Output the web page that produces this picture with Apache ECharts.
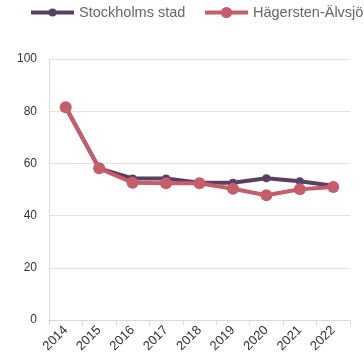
<!DOCTYPE html>
<html>
<head>
<meta charset="utf-8">
<script src="https://cdn.jsdelivr.net/npm/echarts@6/dist/echarts.min.js"></script>
<style>
  html, body { margin: 0; padding: 0; background: #fff; }
  #chart { width: 364px; height: 363px; }
</style>
</head>
<body>
<div id="chart"></div>
<script>
const years = ['2014', '2015', '2016', '2017', '2018', '2019', '2020', '2021', '2022'];
const stockholm = [81.5, 58.1, 54.2, 54.2, 52.6, 52.6, 54.3, 53.2, 51.4];
const hagersten = [81.5, 58.1, 52.6, 52.4, 52.4, 50.3, 47.8, 50.1, 51.0];
const yTicks = [0, 20, 40, 60, 80, 100];

const purple = '#5b3f63';
const pink = '#c55d6b';
const font = 'Liberation Sans, Arial, sans-serif';

// One legend per series so the long second name can run to the edge without wrapping
function legendFor(name, left, h) {
  return {
    top: 5,
    left: left,
    padding: 0,
    itemWidth: 43,
    itemHeight: h,
    lineStyle: { width: 4 },
    textStyle: { fontSize: 14.5, color: '#666', fontFamily: font },
    data: [name]
  };
}

const chart = echarts.init(document.getElementById('chart'));
chart.setOption({
  animation: false,
  textStyle: { fontFamily: font },
  legend: [
    legendFor('Stockholms stad', 29, 10),
    legendFor('Hägersten-Älvsjö', 203, 14)
  ],
  grid: { left: 49, right: 14, top: 59, bottom: 43 },
  xAxis: {
    type: 'category',
    data: years,
    boundaryGap: true,
    axisLine: { lineStyle: { color: '#d9d9d9', width: 1 } },
    axisTick: { show: true, length: 5, lineStyle: { color: '#d9d9d9' } },
    axisLabel: { rotate: 45, color: '#333', fontSize: 13, margin: 8, fontFamily: font }
  },
  yAxis: {
    type: 'value',
    min: yTicks[0],
    max: yTicks[yTicks.length - 1],
    interval: yTicks[1] - yTicks[0],
    axisLine: { show: true, lineStyle: { color: '#d9d9d9', width: 1 } },
    axisTick: { show: false },
    axisLabel: { color: '#333', fontSize: 12, margin: 12, fontFamily: font },
    splitLine: { lineStyle: { color: '#e3e3e3', width: 1 } }
  },
  series: [
    {
      name: 'Stockholms stad',
      type: 'line',
      data: stockholm,
      symbol: 'circle',
      symbolSize: 8,
      color: purple,
      lineStyle: { width: 4, color: purple },
      itemStyle: { color: purple },
      z: 2
    },
    {
      name: 'Hägersten-Älvsjö',
      type: 'line',
      data: hagersten,
      symbol: 'circle',
      symbolSize: 12,
      color: pink,
      lineStyle: { width: 4, color: pink },
      itemStyle: { color: pink },
      z: 3
    }
  ]
});
</script>
</body>
</html>
